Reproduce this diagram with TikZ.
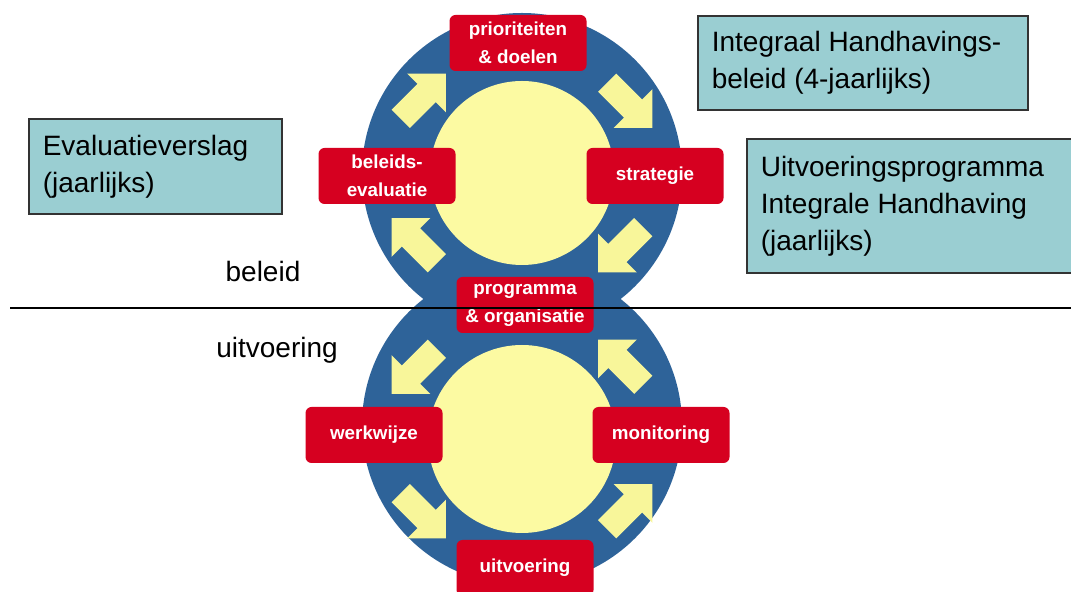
\documentclass[tikz,border=0pt]{standalone}
\usepackage{fontspec}
\setmainfont{Liberation Sans}
\usetikzlibrary{shapes.arrows}

\definecolor{ringblue}{HTML}{2E6399}
\definecolor{sunyellow}{HTML}{FCFAA2}
\definecolor{arrowyellow}{HTML}{F8F69A}
\definecolor{boxred}{HTML}{D60020}
\definecolor{panelcyan}{HTML}{9ACED2}

\begin{document}
\begin{tikzpicture}[x=0.5pt,y=0.5pt,
  ringarrow/.style={single arrow, fill=arrowyellow, inner sep=6.25pt,
    minimum height=32pt, single arrow head extend=7.25pt,
    single arrow tip angle=90},
  stagebox/.style={fill=boxred, rounded corners=3pt, text=white,
    font=\bfseries\fontsize{9.4}{14}\selectfont, align=center,
    minimum width=68.5pt, minimum height=28pt, inner sep=0pt},
  docbox/.style={fill=panelcyan, draw=black!80, line width=0.8pt,
    font=\fontsize{14}{18.5}\selectfont, align=flush left, inner xsep=7pt,
    anchor=north west},
  phaselabel/.style={font=\fontsize{14}{17}\selectfont, anchor=base}]
\useasboundingbox (0,0) rectangle (1071,-592);

\coordinate (topc) at (522,-173);
\coordinate (botc) at (522,-439);

% blue rings first
\fill[ringblue] (topc) circle (160);
\fill[ringblue] (522,-425) circle (160);

% then the yellow centres
\fill[sunyellow] (topc) circle (92);
\fill[sunyellow] (botc) circle (94);

% arrows, beleid (clockwise)
\node[ringarrow, rotate=45]   (ap1) at ([shift={(145:126)}]topc) {};
\node[ringarrow, rotate=-45]  (ap2) at ([shift={(35:126)}]topc) {};
\node[ringarrow, rotate=-135] (ap3) at ([shift={(-35:126)}]topc) {};
\node[ringarrow, rotate=135]  (ap4) at ([shift={(-145:126)}]topc) {};

% arrows, uitvoering (anticlockwise)
\node[ringarrow, rotate=-135] (au1) at ([shift={(145:126)}]botc) {};
\node[ringarrow, rotate=-45]  (au2) at ([shift={(-145:126)}]botc) {};
\node[ringarrow, rotate=45]   (au3) at ([shift={(-35:126)}]botc) {};
\node[ringarrow, rotate=135]  (au4) at ([shift={(35:126)}]botc) {};

% stages
\node[stagebox] (prio)       at (518,-43)  {prioriteiten\\\& doelen};
\node[stagebox] (evaluatie)  at (387,-176) {beleids-\\evaluatie};
\node[stagebox] (strategie)  at (655,-176) {strategie};
\node[stagebox] (programma)  at (525,-305) {programma\\\& organisatie};
\node[stagebox] (werkwijze)  at (374,-435) {werkwijze};
\node[stagebox] (monitoring) at (661,-435) {monitoring};
\node[stagebox] (uitvoering) at (525,-568) {uitvoering};

% dividing line
\coordinate (lineL) at (10,-308);
\coordinate (lineR) at (1071,-308);
\draw[line width=0.8pt] (lineL) -- (lineR);

\node[phaselabel] (beleid) at (263,-282) {beleid};
\node[phaselabel] (uitv)   at (277,-358) {uitvoering};

% documents
\node[docbox, text width=151pt, minimum height=47pt] (ihb) at (697,-15)
  {Integraal Handhavings-\\beleid (4-jaarlijks)};
\node[docbox, text width=112.5pt, minimum height=47.5pt] (evv) at (28,-118)
  {Evaluatieverslag\\(jaarlijks)};
\node[docbox, text width=151pt, minimum height=67pt] (uip) at (746,-138)
  {Uitvoeringsprogramma\\Integrale Handhaving\\(jaarlijks)};
\end{tikzpicture}
\end{document}
